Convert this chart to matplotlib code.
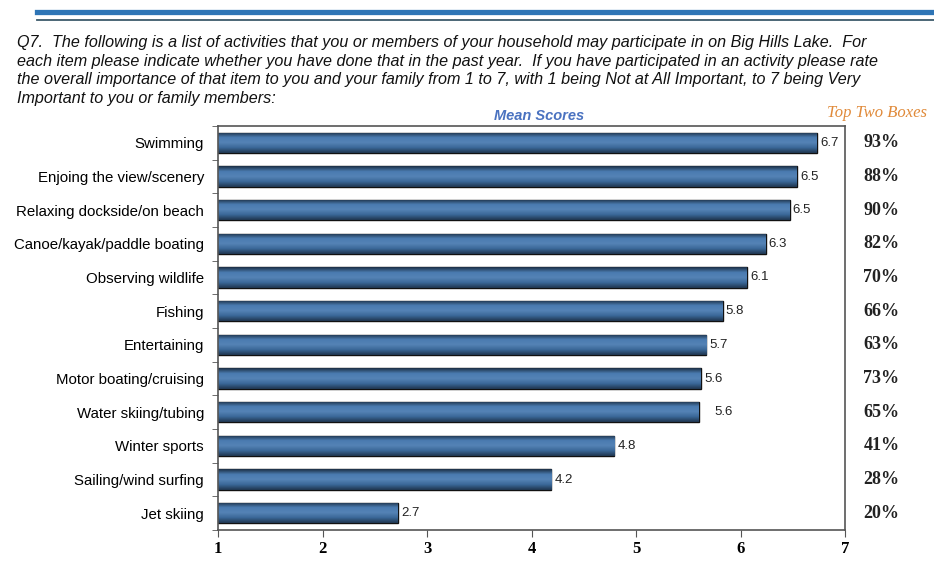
import numpy as np
import matplotlib.pyplot as plt
from matplotlib.colors import LinearSegmentedColormap

activities = ['Swimming', 'Enjoing the view/scenery', 'Relaxing dockside/on beach',
              'Canoe/kayak/paddle boating', 'Observing wildlife', 'Fishing',
              'Entertaining', 'Motor boating/cruising', 'Water skiing/tubing',
              'Winter sports', 'Sailing/wind surfing', 'Jet skiing']
bar_lengths = [6.73, 6.54, 6.47, 6.24, 6.06, 5.83, 5.67, 5.62, 5.60, 4.79, 4.19, 2.72]
mean_labels = ['6.7', '6.5', '6.5', '6.3', '6.1', '5.8', '5.7', '5.6', '5.6', '4.8', '4.2', '2.7']
top_two = ['93%', '88%', '90%', '82%', '70%', '66%', '63%', '73%', '65%', '41%', '28%', '20%']
x_ticks = [1, 2, 3, 4, 5, 6, 7]

question = ("Q7.  The following is a list of activities that you or members of your household may participate in on Big Hills Lake.  For\n"
            "each item please indicate whether you have done that in the past year.  If you have participated in an activity please rate\n"
            "the overall importance of that item to you and your family from 1 to 7, with 1 being Not at All Important, to 7 being Very\n"
            "Important to you or family members:")

fig = plt.figure(figsize=(9.34, 5.62), dpi=100)
fig.patch.set_facecolor('white')

# header lines
fig.add_artist(plt.Line2D([37 / 934, 1], [1 - 11.5 / 562] * 2, color='#2e75b6', lw=3.8))
fig.add_artist(plt.Line2D([37 / 934, 1], [1 - 20 / 562] * 2, color='#3d5a6b', lw=1.3))

fig.text(17 / 934, 1 - 35 / 562, question, ha='left', va='top', fontsize=11.6,
         style='italic', family='Liberation Sans', linespacing=1.3, color='#111111')

ax = fig.add_axes([218 / 934, 1 - 530 / 562, 627 / 934, 404 / 562])
y = np.arange(len(activities))
bars = ax.barh(y, [v - 1 for v in bar_lengths], left=1, height=0.6,
               color='#3f6e9f', edgecolor='#111111', linewidth=1.0, zorder=2)

# shaded look for the bars
cmap = LinearSegmentedColormap.from_list('barshade',
                                         ['#1c2f45', '#4a7bb0', '#5583b6', '#3a6797', '#20364f'])
grad = np.linspace(0, 1, 64).reshape(-1, 1)
for b, v, i in zip(bars, bar_lengths, y):
    im = ax.imshow(grad, cmap=cmap, aspect='auto', extent=(1, v, i + 0.3, i - 0.3),
                   zorder=2.5, interpolation='bilinear')
    im.set_clip_path(b)

for v, lab, i in zip(bar_lengths, mean_labels, y):
    off = 0.15 if lab == '5.6' and i == 8 else 0.03
    ax.text(v + off, i, lab, ha='left', va='center', fontsize=9.5,
            family='Liberation Sans', color='#222222', zorder=3)

for pct, i in zip(top_two, y):
    ax.text(1.058, i, pct, transform=ax.get_yaxis_transform(), ha='center', va='center',
            fontsize=13, fontweight='bold', family='Liberation Serif', color='#222222')

ax.set_xlim(1, 7)
ax.set_ylim(len(activities) - 0.5, -0.5)
ax.set_xticks(x_ticks)
ax.set_xticklabels([str(t) for t in x_ticks], fontsize=12, fontweight='bold',
                   family='Liberation Serif')
ax.set_yticks(y)
ax.set_yticklabels(activities, fontsize=10.8, family='Liberation Sans')
ax.set_yticks(np.arange(-0.5, len(activities), 1), minor=True)
ax.tick_params(axis='y', which='major', length=0, pad=10)
ax.tick_params(axis='y', which='minor', length=4, direction='out', color='#555555')
ax.tick_params(axis='x', length=5, direction='out', color='#555555', pad=3)
for s in ax.spines.values():
    s.set_color('#555555')
    s.set_linewidth(1.2)

fig.text(539 / 934, 1 - 116 / 562, 'Mean Scores', ha='center', va='center', fontsize=10.5,
         style='italic', fontweight='bold', color='#4a72c0', family='Liberation Sans')
fig.text(877 / 934, 1 - 113 / 562, 'Top Two Boxes', ha='center', va='center', fontsize=12,
         style='italic', color='#e08a3a', family='Liberation Serif')

fig.savefig('out.png', dpi=100, facecolor='white')
